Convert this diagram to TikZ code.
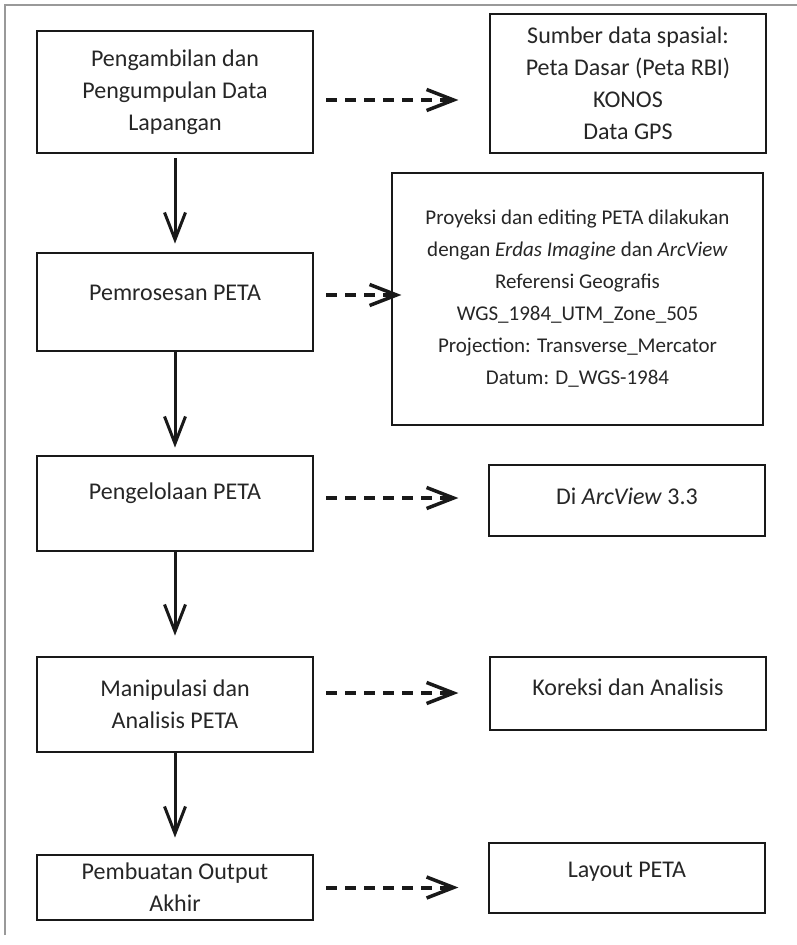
\documentclass[tikz,border=0pt]{standalone}
\usepackage{fontspec}
\setmainfont{Carlito}
\usetikzlibrary{arrows.meta}

\tikzset{
  stepbox/.style={draw=black!90, line width=2.8pt, align=center, inner sep=0pt,
    text=black!85, font=\fontsize{24}{32}\selectfont},
  lift/.style={text depth=#1},
  flowarrow/.style={line width=3pt, black!90, -{Straight Barb[length=27pt,width=21pt,line width=3pt]}},
  dasharrow/.style={line width=4pt, black!90, dash pattern=on 11pt off 8pt,
    -{Straight Barb[length=27pt,width=21pt,line width=3.5pt]}}
}

\begin{document}
\begin{tikzpicture}[x=1pt,y=-1pt]
  \useasboundingbox (0,0) rectangle (797,945);
  % frame
  \draw[gray!80, line width=1.8pt] (5,935) -- (5,5) -- (797,5);

  % left column
  \node[stepbox, minimum width=276, minimum height=122] (ambil) at (175,92)
    {Pengambilan dan\\Pengumpulan Data\\Lapangan};
  \node[stepbox, lift=19pt, minimum width=276, minimum height=98] (proses) at (175,302)
    {Pemrosesan PETA};
  \node[stepbox, lift=25pt, minimum width=276, minimum height=95] (kelola) at (175,503.5)
    {Pengelolaan PETA};
  \node[stepbox, minimum width=276, minimum height=95] (manip) at (175,704.5)
    {Manipulasi dan\\Analisis PETA};
  \node[stepbox, minimum width=276, minimum height=65] (output) at (175,887.5)
    {Pembuatan Output\\Akhir};

  % right column
  \node[stepbox, minimum width=276, minimum height=139] (sumber) at (628,83.5)
    {Sumber data spasial:\\Peta Dasar (Peta RBI)\\KONOS\\Data GPS};
  \node[stepbox, minimum width=371, minimum height=252,
    font=\fontsize{21}{32}\selectfont] (proyeksi) at (577.5,299)
    {Proyeksi dan editing PETA dilakukan\\dengan \textit{Erdas Imagine} dan \textit{ArcView}\\Referensi Geografis\\WGS\_1984\_UTM\_Zone\_505\\Projection: Transverse\_Mercator\\Datum: D\_WGS-1984};
  \node[stepbox, lift=8pt, minimum width=276, minimum height=71] (arcview) at (627,500.5)
    {Di \textit{ArcView} 3.3};
  \node[stepbox, lift=12pt, minimum width=276, minimum height=73] (koreksi) at (628,693.5)
    {Koreksi dan Analisis};
  \node[stepbox, lift=17pt, minimum width=276, minimum height=70] (layout) at (627,878)
    {Layout PETA};

  % main flow
  \draw[flowarrow, shorten <=4pt, shorten >=8pt] (ambil) -- (proses);
  \draw[flowarrow, shorten >=7pt] (proses) -- (kelola);
  \draw[flowarrow, shorten >=20pt] (kelola) -- (manip);
  \draw[flowarrow, shorten >=16pt] (manip) -- (output);

  % side steps
  \draw[dasharrow] ([shift={(12,8)}]ambil.east) -- ++(132,0);
  \draw[dasharrow] ([shift={(12,-7)}]proses.east) -- ++(75,0);
  \draw[dasharrow] ([shift={(12,-5.5)}]kelola.east) -- ++(132,0);
  \draw[dasharrow] ([shift={(12,-11.5)}]manip.east) -- ++(132,0);
  \draw[dasharrow] ([shift={(12,0)}]output.east) -- ++(132,0);
\end{tikzpicture}
\end{document}
